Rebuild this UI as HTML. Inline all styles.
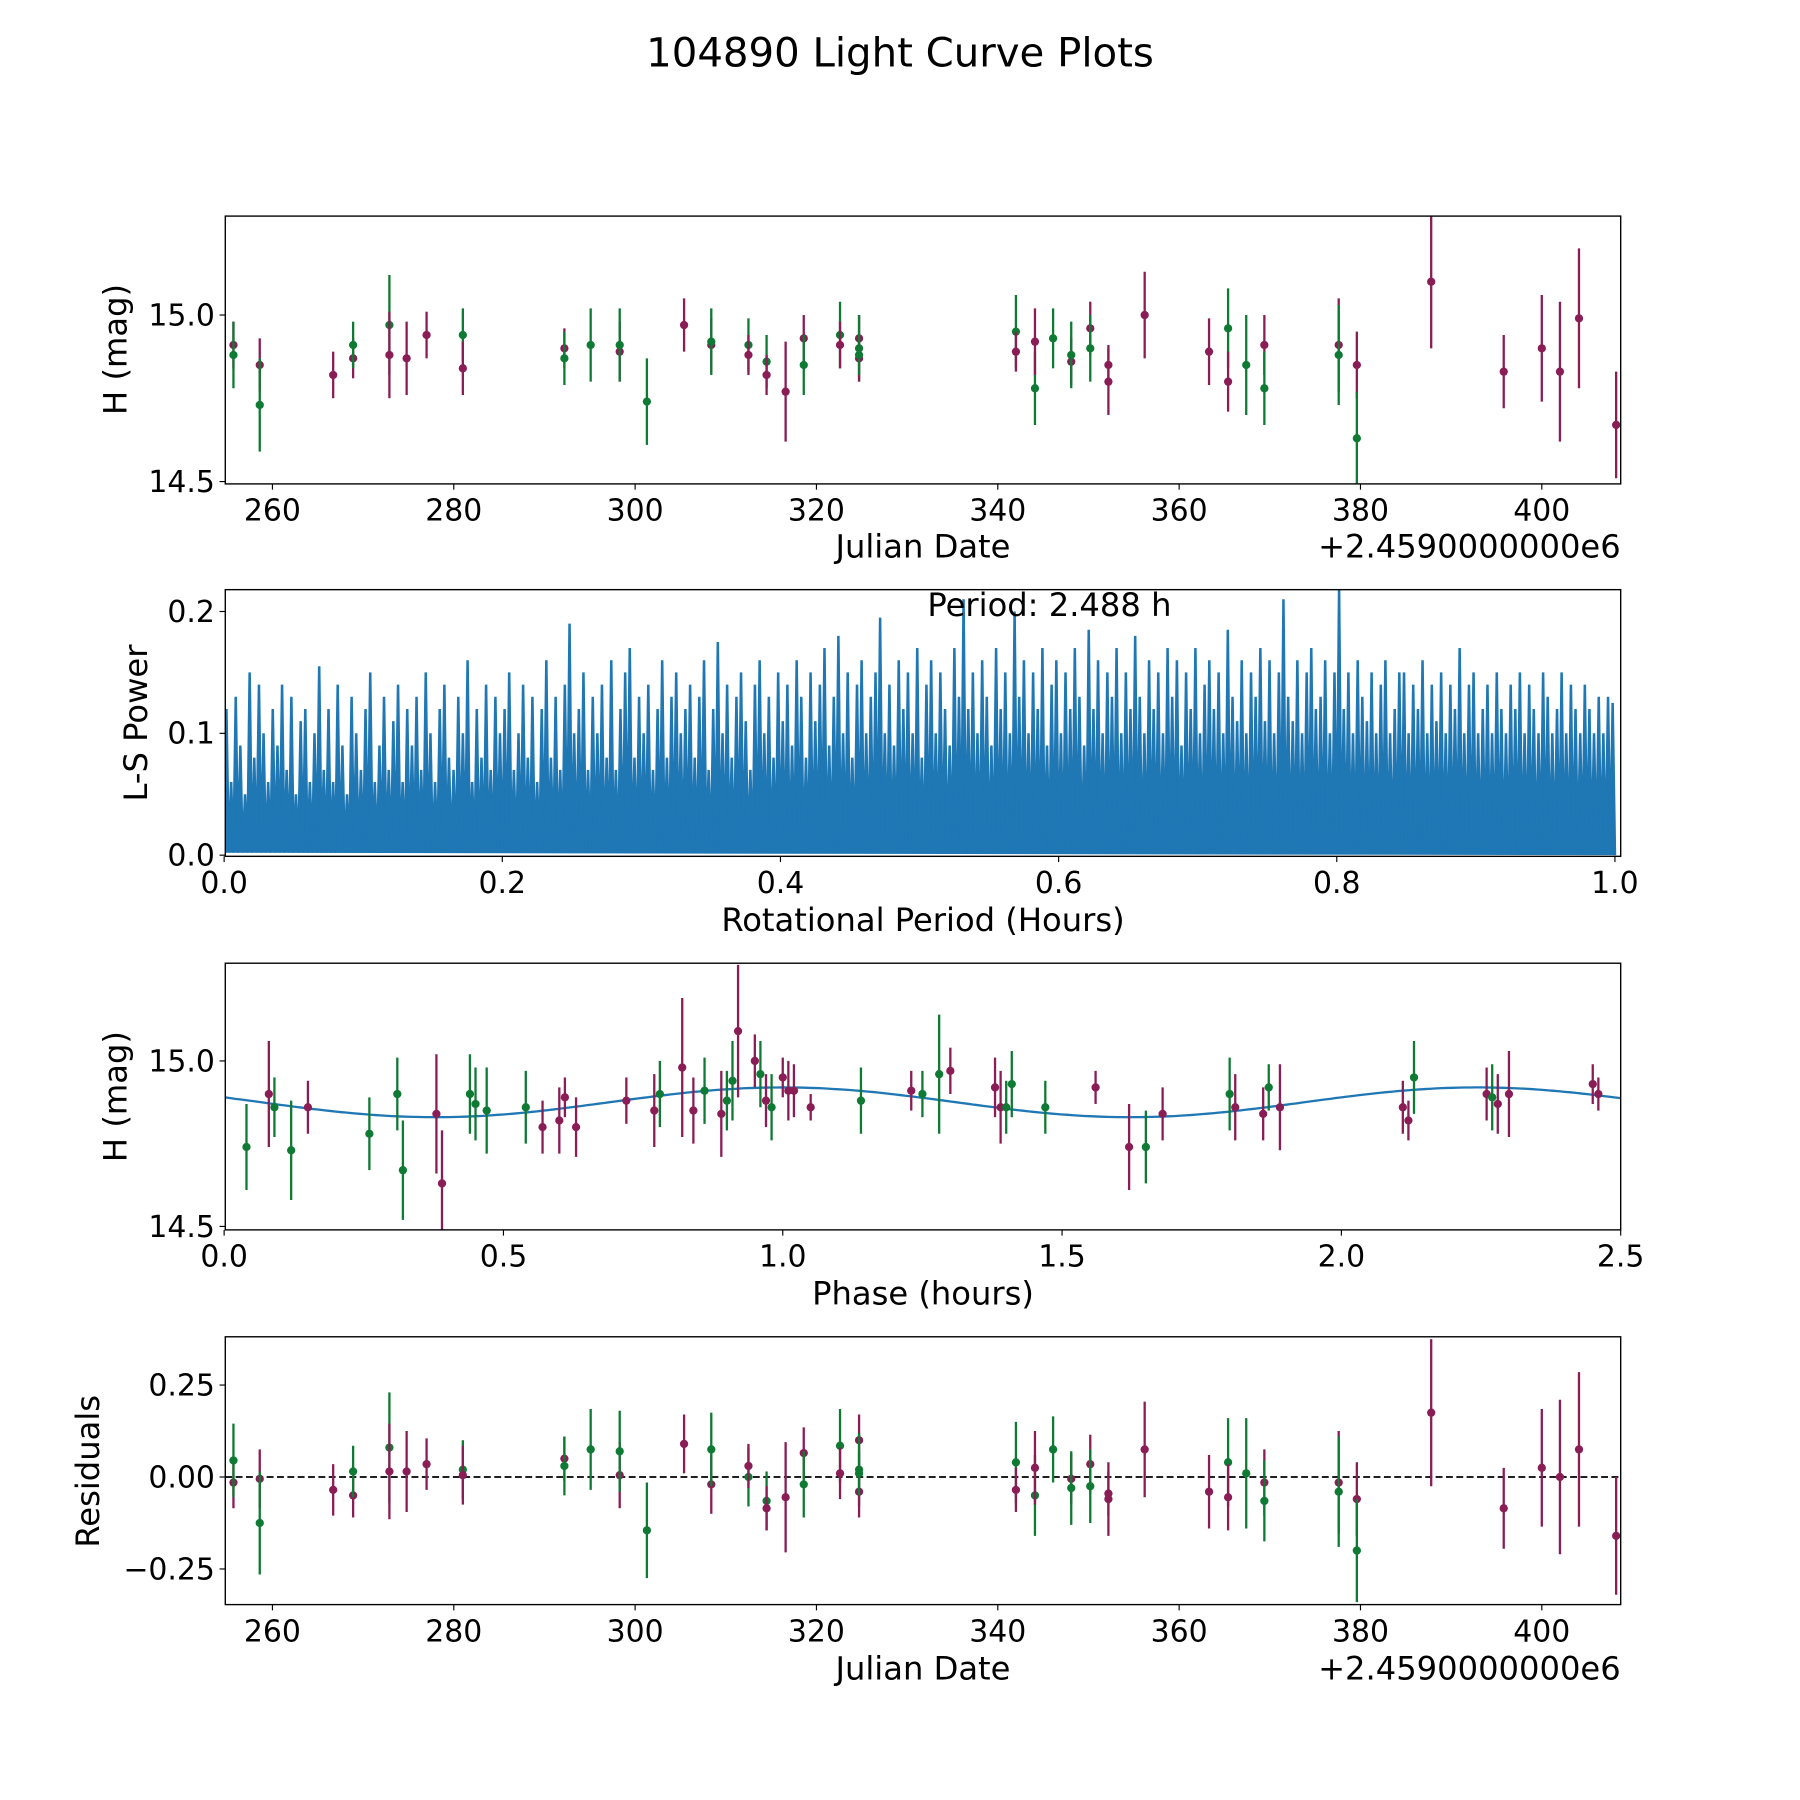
<!DOCTYPE html>
<html><head><meta charset="utf-8"><style>
html,body{margin:0;padding:0;background:#fff}
svg{display:block}
text{font-family:"DejaVu Sans","Liberation Sans",sans-serif;fill:#000}
</style></head><body>
<svg id="fig" width="1800" height="1800" viewBox="0 0 1566 1566" xmlns="http://www.w3.org/2000/svg">
<rect width="1566" height="1566" fill="#fff"/>
<text x="783" y="58" font-size="35" text-anchor="middle">104890 Light Curve Plots</text>
<g id="layer"></g>
</svg>
<script>
// ---- Light curve data (Julian date offset, magnitude, error, band) ----
const jdDates = [255.7,255.7,258.6,258.6,266.7,268.9,268.9,272.9,272.9,274.8,277.0,281.0,281.0,292.2,292.2,295.1,298.3,298.3,301.3,305.4,308.4,308.4,312.5,312.5,314.5,314.5,316.6,318.6,318.6,322.6,322.6,324.7,324.7,324.7,324.7,342.0,342.0,344.1,344.1,346.1,348.1,348.1,350.2,350.2,352.2,352.2,356.2,363.3,365.4,365.4,367.4,369.4,369.4,377.6,377.6,379.6,379.6,387.8,395.8,400.0,402.0,404.1,408.2];
const magValues = [14.91,14.88,14.85,14.73,14.82,14.87,14.91,14.97,14.88,14.87,14.94,14.94,14.84,14.90,14.87,14.91,14.89,14.91,14.74,14.97,14.91,14.92,14.91,14.88,14.86,14.82,14.77,14.93,14.85,14.94,14.91,14.93,14.90,14.87,14.88,14.95,14.89,14.78,14.92,14.93,14.86,14.88,14.96,14.90,14.85,14.80,15.00,14.89,14.96,14.80,14.85,14.91,14.78,14.91,14.88,14.85,14.63,15.10,14.83,14.90,14.83,14.99,14.67];
const magErrors = [0.07,0.1,0.08,0.14,0.07,0.06,0.07,0.15,0.13,0.11,0.07,0.08,0.08,0.06,0.08,0.11,0.09,0.11,0.13,0.08,0.08,0.1,0.08,0.06,0.08,0.06,0.15,0.07,0.09,0.1,0.07,0.07,0.1,0.07,0.06,0.11,0.06,0.11,0.1,0.09,0.07,0.1,0.08,0.1,0.06,0.1,0.13,0.1,0.12,0.09,0.15,0.09,0.11,0.14,0.15,0.1,0.14,0.2,0.11,0.16,0.21,0.21,0.16];
const bands = ("pgpg"+"p"+"pg"+"gp"+"pp"+"gp"+"pg"+"g"+"pg"+"g"+"p"+"pg"+"gp"+"gp"+"p"+"pg"+"gp"+"pgpg"+"gp"+"gp"+"g"+"pg"+"pg"+"pp"+"p"+"p"+"gp"+"g"+"pg"+"pg"+"pg"+"pppppp").split("");
const residualValues = [-0.015,0.045,-0.005,-0.125,-0.035,-0.05,0.015,0.08,0.015,0.015,0.035,0.02,0.005,0.05,0.03,0.075,0.005,0.07,-0.145,0.09,-0.02,0.075,0.0,0.03,-0.065,-0.085,-0.055,0.065,-0.02,0.085,0.01,0.10,0.02,-0.04,0.01,0.04,-0.035,-0.05,0.025,0.075,-0.005,-0.03,0.035,-0.025,-0.045,-0.06,0.075,-0.04,0.04,-0.055,0.01,-0.015,-0.065,-0.015,-0.04,-0.06,-0.2,0.175,-0.085,0.025,0.0,0.075,-0.16];
// ---- Phased data ----
const phaseValues = [0.04,0.08,0.09,0.12,0.15,0.26,0.31,0.32,0.38,0.39,0.44,0.45,0.47,0.54,0.57,0.60,0.61,0.63,0.72,0.77,0.78,0.82,0.84,0.86,0.89,0.90,0.91,0.92,0.95,0.96,0.97,0.98,1.00,1.01,1.02,1.05,1.14,1.23,1.25,1.28,1.30,1.38,1.39,1.40,1.41,1.47,1.56,1.62,1.65,1.68,1.80,1.81,1.86,1.87,1.89,2.11,2.12,2.13,2.26,2.27,2.28,2.30,2.45,2.46];
const phaseMags = [14.74,14.90,14.86,14.73,14.86,14.78,14.90,14.67,14.84,14.63,14.90,14.87,14.85,14.86,14.80,14.82,14.89,14.80,14.88,14.85,14.90,14.98,14.85,14.91,14.84,14.88,14.94,15.09,15.0,14.96,14.88,14.86,14.95,14.91,14.91,14.86,14.88,14.91,14.90,14.96,14.97,14.92,14.86,14.86,14.93,14.86,14.92,14.74,14.74,14.84,14.90,14.86,14.84,14.92,14.86,14.86,14.82,14.95,14.90,14.89,14.87,14.90,14.93,14.90];
const phaseErrs = [0.13,0.16,0.09,0.15,0.08,0.11,0.11,0.15,0.18,0.16,0.12,0.11,0.13,0.11,0.08,0.1,0.06,0.09,0.07,0.11,0.1,0.21,0.1,0.1,0.13,0.09,0.12,0.2,0.08,0.1,0.08,0.1,0.06,0.09,0.08,0.04,0.1,0.06,0.07,0.18,0.07,0.09,0.11,0.08,0.1,0.08,0.05,0.13,0.11,0.08,0.11,0.1,0.08,0.07,0.13,0.08,0.06,0.11,0.08,0.1,0.09,0.13,0.06,0.05];
const phaseBands = ("gpggpgggpp"+"ggggpppppp"+"gppgpggppg"+"pgppppgpgg"+"pppgggppgp"+"gppgpppgpg"+"pppp").split("");
// model fit parameters: mean, amplitude, period (h), peak phase
const modelParams = [14.875, 0.045, 1.244, 1.0];
// ---- Periodogram powers (x = (i+1)/300) ----
const lsPower = [.12,.06,.13,.09,.05,.15,.08,.14,.10,.06,.12,.09,.14,.07,.13,.05,.11,.12,.06,.10,
.155,.07,.12,.06,.14,.09,.05,.13,.10,.07,.12,.15,.06,.09,.13,.07,.11,.14,.06,.12,
.09,.13,.07,.15,.10,.06,.12,.14,.08,.07,.13,.10,.16,.06,.12,.08,.14,.07,.13,.10,
.12,.15,.07,.10,.14,.08,.13,.06,.12,.16,.08,.13,.07,.14,.19,.10,.12,.15,.07,.13,
.10,.14,.08,.16,.07,.12,.15,.17,.08,.13,.10,.14,.07,.12,.16,.08,.13,.15,.10,.12,
.14,.08,.13,.16,.07,.12,.175,.10,.14,.08,.13,.15,.11,.07,.14,.16,.10,.13,.08,.15,
.11,.14,.09,.16,.13,.08,.15,.11,.14,.17,.09,.13,.18,.10,.15,.08,.14,.16,.10,.13,
.15,.195,.10,.14,.09,.16,.12,.15,.10,.17,.08,.14,.16,.10,.15,.12,.09,.17,.13,.21,
.12,.15,.10,.16,.13,.09,.17,.12,.15,.10,.20,.13,.16,.10,.15,.12,.17,.09,.14,.16,
.10,.15,.12,.17,.13,.09,.185,.12,.16,.10,.15,.13,.17,.10,.15,.12,.18,.13,.10,.16,
.12,.15,.10,.17,.13,.16,.09,.15,.12,.17,.10,.14,.16,.12,.15,.10,.185,.13,.11,.16,
.10,.15,.13,.17,.11,.16,.10,.15,.21,.13,.11,.16,.10,.15,.17,.12,.13,.16,.10,.15,
.22,.12,.15,.10,.16,.13,.11,.15,.10,.14,.16,.10,.12,.15,.15,.10,.14,.12,.16,.10,
.14,.11,.15,.10,.14,.12,.17,.10,.14,.15,.10,.12,.14,.10,.15,.12,.10,.14,.12,.15,
.10,.14,.12,.10,.15,.13,.10,.12,.15,.10,.14,.12,.10,.14,.12,.10,.13,.10,.13,.125];
const jdTicks = [260,280,300,320,340,360,380,400];
const magTicks = [14.5,15.0];
const powerTicks = [0.0,0.1,0.2];
const periodTicks = [0.0,0.2,0.4,0.6,0.8,1.0];
const phaseTicks = [0.0,0.5,1.0,1.5,2.0,2.5];
const residTicks = [0.25,0.0,-0.25];

const NS="http://www.w3.org/2000/svg";
const layer=document.getElementById('layer');
const COL={p:'#8a1d56',g:'#0f7a33'};
function mk(tag,attrs,parent){const e=document.createElementNS(NS,tag);for(const k in attrs)e.setAttribute(k,attrs[k]);(parent||layer).appendChild(e);return e;}
function scale(d0,d1,p0,p1){return v=>p0+(v-d0)/(d1-d0)*(p1-p0);}

function axes(name,L,T,R,B,xs,ys,xt,yt,xfmt,yfmt){
  const g=mk('g',{});
  
  
  xt.forEach(v=>{const x=xs(v);
    const t=mk('line',{x1:x,x2:x,y1:B,y2:B+5,stroke:'#000','stroke-width':1},g);
    
    const l=mk('text',{x:x,y:B+32,'font-size':26,'text-anchor':'middle'},g);l.textContent=xfmt(v);
    });
  yt.forEach(v=>{const y=ys(v);
    const t=mk('line',{x1:L-5,x2:L,y1:y,y2:y,stroke:'#000','stroke-width':1},g);
    
    const l=mk('text',{x:L-9,y:y+9,'font-size':26,'text-anchor':'end'},g);l.textContent=yfmt(v);
    });
  return g;
}
function frame(L,T,R,B){const r=mk('rect',{x:L,y:T,width:R-L,height:B-T,fill:'none',stroke:'#000','stroke-width':1.2});
  }
function label(txt,x,y,rot,name,size){const t=mk('text',{x:x,y:y,'font-size':size||28,'text-anchor':'middle',transform:rot?`rotate(-90 ${x} ${y})`:''});
  t.textContent=txt;return t;}
function clip(id,L,T,R,B){const c=mk('clipPath',{id:id});mk('rect',{x:L,y:T,width:R-L,height:B-T},c);}
function errPoint(g,x,y,y1,y2,col){
  const l=mk('line',{x1:x,x2:x,y1:y1,y2:y2,stroke:col,'stroke-width':2},g);
  
  const c=mk('circle',{cx:x,cy:y,r:3.6,fill:col},g);
  
}
const f1=v=>v.toFixed(1), f2=v=>v.toFixed(2).replace('-','\u2212');

// Panel 1
{const L=196,T=188,R=1410,B=421;
 const xs=scale(254.8,408.7,L,R), ys=scale(14.493,15.297,B,T);
 clip('c1',L,T,R,B);
 const g=mk('g',{'clip-path':'url(#c1)'});
 
 jdDates.forEach((d,i)=>errPoint(g,xs(d),ys(magValues[i]),ys(magValues[i]-magErrors[i]),ys(magValues[i]+magErrors[i]),COL[bands[i]]));
 frame(L,T,R,B);
 axes('light-curve-axes',L,T,R,B,xs,ys,jdTicks,magTicks,v=>String(v),f1);
 label('H (mag)',110,304,true,'y-axis-title-mag');
 label('Julian Date',803,485,false,'x-axis-title-jd');
 const o=mk('text',{x:1410,y:485,'font-size':28,'text-anchor':'end'});o.textContent='+2.4590000000e6';
 
}
// Panel 2
{const L=196,T=513,R=1410,B=745;
 const xs=scale(0,1,195,1405), ys=scale(0,0.1,744,638);
 clip('c2',L,T,R,B);
 let pts=[];
 lsPower.forEach((v,i)=>{const x0=(i+0.5)/lsPower.length;
   pts.push(xs(x0-0.5/lsPower.length).toFixed(1)+','+ys(0.002).toFixed(1));
   pts.push(xs(x0).toFixed(1)+','+ys(v).toFixed(1));});
 pts.push(xs(1).toFixed(1)+','+ys(0).toFixed(1));
 const p=mk('polyline',{points:pts.join(' '),fill:'#1f77b4',stroke:'#1f77b4','stroke-width':2.2,'stroke-linejoin':'miter','clip-path':'url(#c2)'});
 
 frame(L,T,R,B);
 axes('periodogram-axes',L,T,R,B,xs,ys,periodTicks,powerTicks,f1,f1);
 label('L-S Power',128,629,true,'y-axis-title-power');
 label('Rotational Period (Hours)',803,810,false,'x-axis-title-period');
 const t=mk('text',{x:913,y:536,'font-size':28,'text-anchor':'middle'});t.textContent='Period: 2.488 h';
 
}
// Panel 3
{const L=196,T=838,R=1410,B=1070;
 const xs=scale(0,2.5,195,1410), ys=scale(14.5,15.0,1067,923);
 clip('c3',L,T,R,B);
 const g=mk('g',{'clip-path':'url(#c3)'});
 
 let pts=[];
 for(let k=0;k<=250;k++){const x=k/100;
   const m=modelParams[0]+modelParams[1]*Math.cos(2*Math.PI*(x-modelParams[3])/modelParams[2]);
   pts.push(xs(x).toFixed(1)+','+ys(m).toFixed(1));}
 const ml=mk('polyline',{points:pts.join(' '),fill:'none',stroke:'#1f77b4','stroke-width':2},g);
 
 phaseValues.forEach((ph,i)=>errPoint(g,xs(ph),ys(phaseMags[i]),ys(phaseMags[i]-phaseErrs[i]),ys(phaseMags[i]+phaseErrs[i]),COL[phaseBands[i]]));
 frame(L,T,R,B);
 axes('phase-axes',L,T,R,B,xs,ys,phaseTicks,magTicks,f1,f1);
 label('H (mag)',110,954,true,'y-axis-title-mag-phase');
 label('Phase (hours)',803,1135,false,'x-axis-title-phase');
}
// Panel 4
{const L=196,T=1163,R=1410,B=1396;
 const xs=scale(254.8,408.7,L,R), ys=scale(0,0.25,1285,1205);
 clip('c4',L,T,R,B);
 const z=mk('line',{x1:L,x2:R,y1:ys(0),y2:ys(0),stroke:'#000','stroke-width':1.5,'stroke-dasharray':'6,3'});
 
 const g=mk('g',{'clip-path':'url(#c4)'});
 
 jdDates.forEach((d,i)=>errPoint(g,xs(d),ys(residualValues[i]),ys(residualValues[i]-magErrors[i]),ys(residualValues[i]+magErrors[i]),COL[bands[i]]));
 frame(L,T,R,B);
 axes('residual-axes',L,T,R,B,xs,ys,jdTicks,residTicks,v=>String(v),f2);
 label('Residuals',86,1280,true,'y-axis-title-residuals');
 label('Julian Date',803,1461,false,'x-axis-title-jd-resid');
 const o=mk('text',{x:1410,y:1461,'font-size':28,'text-anchor':'end'});o.textContent='+2.4590000000e6';
 
}
</script>
</body></html>
